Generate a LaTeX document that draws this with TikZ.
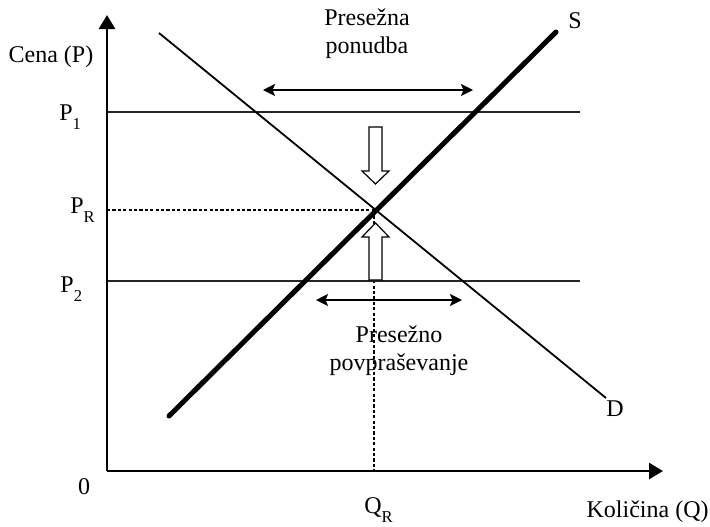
\documentclass[tikz,border=0pt]{standalone}
\usepackage{fontspec}
\setmainfont{Liberation Serif}
\usetikzlibrary{arrows.meta}
\newcommand\sbx[1]{\raisebox{-0.4em}{\fontsize{8.3}{8.3}\selectfont #1}}
\begin{document}
\begin{tikzpicture}[x=0.5pt,y=-0.5pt,
  lbl/.style={inner sep=0pt, font=\fontsize{12}{14}\selectfont},
  axis/.style={line width=1.4pt, -{Triangle[width=8pt,length=7pt]}},
  supply/.style={line width=2.5pt, line cap=round},
  demand/.style={line width=0.9pt},
  price/.style={line width=1pt, black!85},
  guide/.style={line width=0.6pt, dash pattern=on 1.6pt off 1.1pt},
  dbl/.style={line width=0.9pt, {Stealth[length=6pt,width=6pt,inset=1.2pt]}-{Stealth[length=6pt,width=6pt,inset=1.2pt]}},
  hollow/.style={draw, line width=0.6pt, fill=white}]
\useasboundingbox (0,0) rectangle (710,526);
% coordinates
\coordinate (O) at (107,471);
\coordinate (Ytop) at (107,15);
\coordinate (Xend) at (663,471);
\coordinate (E) at (374,210);
\coordinate (PRl) at (107,210);
\coordinate (QRb) at (374,471);
\coordinate (P1l) at (107,112);
\coordinate (P1r) at (580,112);
\coordinate (P2l) at (107,281);
\coordinate (P2r) at (580,281);
\coordinate (S0) at (169,416);
\coordinate (S1) at (556,32);
\coordinate (D0) at (159,33);
\coordinate (D1) at (606,398);
\coordinate (T0) at (263,90);
\coordinate (T1) at (473,90);
\coordinate (B0) at (316,300);
\coordinate (B1) at (462,300);
% guides
\draw[guide] (PRl) -- (E);
\draw[guide] (E) -- (QRb);
% price lines
\draw[price] (P1l) -- (P1r);
\draw[price] (P2l) -- (P2r);
% curves
\draw[demand] (D0) -- (D1);
\draw[supply] (S0) -- (S1);
% hollow arrows
\draw[hollow] (369,127) -- (382,127) -- (382,171) -- (389,171) -- (375.5,184) -- (362,171) -- (369,171) -- cycle;
\draw[hollow] (369,280) -- (382,280) -- (382,237) -- (389,237) -- (375.5,223) -- (362,237) -- (369,237) -- cycle;
% double arrows
\draw[dbl] (T0) -- (T1);
\draw[dbl] (B0) -- (B1);
% axes
\draw[axis] (O) -- (Ytop);
\draw[axis] (O) -- (Xend);
% labels
\node[lbl] (cena) at (51,57) {Cena (P)};
\node[lbl, anchor=base west] (p1) at (59,120) {P\sbx{1}};
\node[lbl, anchor=base west] (pr) at (70,213) {P\sbx{R}};
\node[lbl, anchor=base west] (p2) at (60,292) {P\sbx{2}};
\node[lbl] (zero) at (84,487) {0};
\node[lbl, anchor=base west] (qr) at (364,513) {Q\sbx{R}};
\node[lbl, anchor=base east] (kol) at (709,517) {Količina (Q)};
\node[lbl, anchor=base west] (slab) at (568,28) {S};
\node[lbl, anchor=base west] (dlab) at (606,416) {D};
\node[lbl, align=center, anchor=north] (ponudba) at (367,8) {Presežna\\ponudba};
\node[lbl, align=center, anchor=north] (povpr) at (399,325) {Presežno\\povpraševanje};
\end{tikzpicture}
\end{document}
